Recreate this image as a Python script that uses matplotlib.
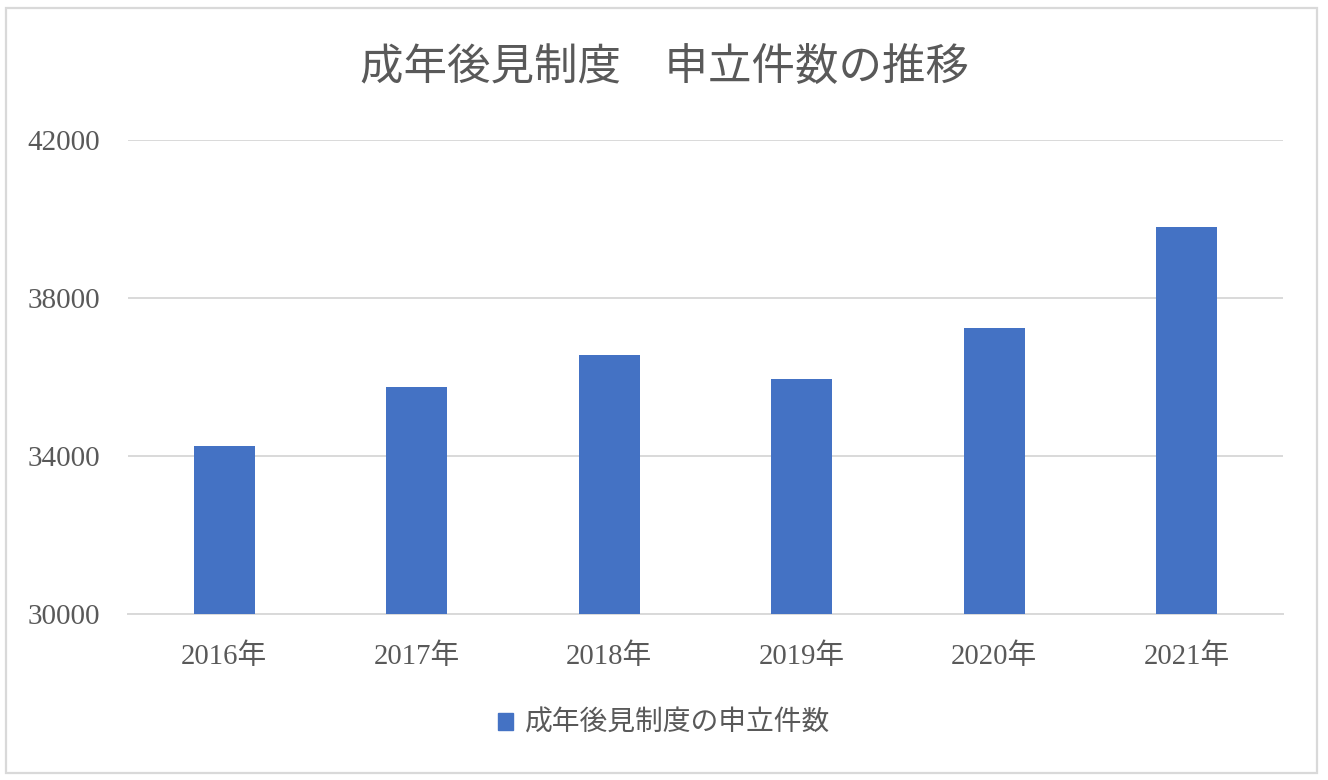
import matplotlib
matplotlib.use("Agg")
import matplotlib.pyplot as plt
from matplotlib.patches import Rectangle, Patch

years = ["2016年", "2017年", "2018年", "2019年", "2020年", "2021年"]
counts = [34249, 35737, 36549, 35959, 37235, 39809]
yticks = [30000, 34000, 38000, 42000]
title = "成年後見制度　申立件数の推移"
series_name = "成年後見制度の申立件数"

FAM = ["Liberation Serif", "Noto Sans CJK JP", "DejaVu Sans"]
plt.rcParams["font.family"] = FAM
TXT = "#595959"
GRID = "#d9d9d9"
BAR = "#4472C4"

W, H = 1328, 780
fig = plt.figure(figsize=(W / 100, H / 100), dpi=100)
fig.patch.set_facecolor("white")

# outer chart border
fig.patches.append(Rectangle((6 / W, (H - 773) / H), 1311 / W, 765 / H,
                             transform=fig.transFigure, fill=False,
                             edgecolor=GRID, linewidth=1.6))

left, right, top, bottom = 128, 1283, 140, 614
ax = fig.add_axes([left / W, (H - bottom) / H, (right - left) / W, (bottom - top) / H])
x = list(range(len(years)))
ax.bar(x, counts, width=0.317, color=BAR, zorder=3)
ax.set_xlim(-0.5, len(years) - 0.5)
ax.set_ylim(30000, 42000)
ax.set_yticks(yticks)
ax.set_yticklabels([str(v) for v in yticks])
ax.set_xticks(x)
ax.set_xticklabels(years)
ax.grid(axis="y", color=GRID, linewidth=1.4, zorder=0)
for s in ["top", "right", "left"]:
    ax.spines[s].set_visible(False)
ax.spines["bottom"].set_color(GRID)
ax.spines["bottom"].set_linewidth(1.4)
ax.tick_params(axis="both", length=0, labelcolor=TXT)
ax.tick_params(axis="y", pad=20, labelsize=21)
ax.tick_params(axis="x", pad=21, labelsize=20.7)

fig.text(0.5, (H - 68) / H, title, ha="center", va="center",
         fontsize=31.3, color=TXT, family=FAM)

fig.legend(handles=[Patch(facecolor=BAR, edgecolor=BAR, label=series_name)],
           loc="center", bbox_to_anchor=(0.5, (H - 724) / H), frameon=False,
           fontsize=20, labelcolor=TXT, handlelength=0.55, handleheight=0.55,
           handletextpad=0.4)

fig.savefig("out.png", dpi=100)
